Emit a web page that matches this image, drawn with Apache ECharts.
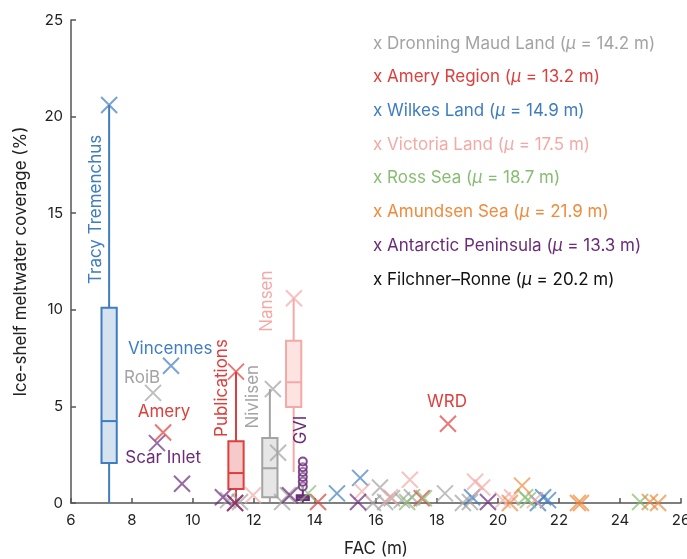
<!DOCTYPE html>
<html>
<head>
<meta charset="utf-8">
<script src="https://cdn.jsdelivr.net/npm/echarts@6/dist/echarts.min.js"></script>
<style>
  html, body { margin: 0; padding: 0; background: #fff; }
  #chart { width: 687px; height: 559px; }
</style>
</head>
<body>
<div id="chart"></div>
<script>
// ---- data (FAC in m, coverage in %) ----
const regionNames = ['Dronning Maud Land', 'Amery Region', 'Wilkes Land', 'Victoria Land',
    'Ross Sea', 'Amundsen Sea', 'Antarctic Peninsula', 'Filchner–Ronne'];
const regionMeans = [14.2, 13.2, 14.9, 17.5, 18.7, 21.9, 13.3, 20.2];
const regionColors = ['#a3a3a3', '#dd3f3c', '#3f7cc0', '#f3aaa6', '#86bd72', '#f08a3c', '#6b2a7a', '#111111'];

const dronningMaud = [[8.69, 5.7], [12.62, 5.9], [12.79, 2.6], [11.15, 0.15], [11.54, 0.05], [12.92, 0.05],
    [13.11, 0.4], [15.9, 0], [16.13, 0.8], [16.3, 0.05], [16.52, 0.25], [16.85, 0.15], [17.18, 0.3],
    [18.26, 0.5], [18.85, 0], [19.08, 0.05]];
const ameryRegion = [[9.02, 3.65], [11.41, 6.8], [11.38, 0], [14.1, 0.05], [17.5, 0.25], [18.36, 4.1]];
const wilkesLand = [[7.25, 20.6], [9.28, 7.1], [14.72, 0.5], [15.48, 1.3], [19.15, 0.3], [21.31, 0],
    [21.48, 0.3], [21.64, 0.15]];
const victoriaLand = [[13.31, 10.6], [11.97, 0.4], [15.54, 0.6], [16.46, 0.3], [17.11, 1.2], [19.25, 1.1],
    [19.48, 0.8], [20.16, 0.15], [20.46, 0.3], [21.21, 0.15]];
const rossSea = [[13.77, 0.5], [17.02, 0.05], [17.57, 0.25], [20.89, 0.3], [20.98, 0.15], [24.66, 0.05]];
const amundsenSea = [[20.39, 0], [20.79, 0.9], [22.62, 0], [22.72, 0], [24.98, 0.05], [25.25, 0]];
const antarcticPeninsula = [[8.82, 3.1], [9.64, 1.0], [10.98, 0.3], [11.38, 0], [13.18, 0.4], [15.41, 0.05],
    [19.67, 0.05]];
const filchnerRonne = [];
const regionPoints = [dronningMaud, ameryRegion, wilkesLand, victoriaLand, rossSea, amundsenSea,
    antarcticPeninsula, filchnerRonne];

// box plots: [FAC, low whisker, Q1, median, Q3, high whisker]
const boxRegion = [2, 1, 0, 3, 6];
const boxStats = [
    [7.25, 0, 2.07, 4.24, 10.1, 20.6],
    [11.41, 0, 0.72, 1.55, 3.2, 6.8],
    [12.52, 0.05, 0.3, 1.8, 3.36, 5.9],
    [13.3, 1.6, 4.97, 6.25, 8.4, 10.6],
    [13.6, 0, 0.15, 0.3, 0.4, 0.85]
];
const boxFills = ['#d5e2f0', '#f6caca', '#e6e6e6', '#fde4e2', '#8a5a96'];
const peninsulaOutliers = [[13.6, 0.85], [13.6, 1.1], [13.6, 1.35], [13.6, 1.6], [13.6, 1.85], [13.6, 2.15]];

// named ice shelves: [name, FAC, coverage, region index, vertical]
const shelfLabels = [
    ['Tracy Tremenchus', 6.82, 15.2, 2, true],
    ['Vincennes', 9.25, 8.0, 2, false],
    ['RoiB', 8.33, 6.5, 0, false],
    ['Amery', 9.05, 4.7, 1, false],
    ['Scar Inlet', 9.02, 2.33, 6, false],
    ['Publications', 10.95, 5.95, 1, true],
    ['Nivlisen', 11.97, 5.5, 0, true],
    ['Nansen', 12.43, 10.45, 3, true],
    ['GVI', 13.54, 3.78, 6, true],
    ['WRD', 18.33, 5.23, 1, false]
];

const FONT = 'Inter, Roboto, sans-serif';
const chart = echarts.init(document.getElementById('chart'));

const series = [];

series.push({
    type: 'custom',
    name: 'boxes',
    data: boxStats,
    z: 2,
    renderItem: function (params, api) {
        const i = params.dataIndex;
        const col = regionColors[boxRegion[i]];
        const x = api.value(0);
        const half = api.size([i === 4 ? 0.4 : 0.5, 0])[0] / 2;
        const lo = api.coord([x, api.value(1)]);
        const q1 = api.coord([x, api.value(2)]);
        const med = api.coord([x, api.value(3)]);
        const q3 = api.coord([x, api.value(4)]);
        const hi = api.coord([x, api.value(5)]);
        const line = { stroke: col, lineWidth: 2 };
        return {
            type: 'group',
            children: [
                { type: 'line', shape: { x1: lo[0], y1: lo[1], x2: q1[0], y2: q1[1] }, style: line },
                { type: 'line', shape: { x1: q3[0], y1: q3[1], x2: hi[0], y2: hi[1] }, style: line },
                { type: 'rect', shape: { x: q3[0] - half, y: q3[1], width: half * 2, height: q1[1] - q3[1] },
                    style: { fill: boxFills[i], stroke: col, lineWidth: 2 } },
                { type: 'line', shape: { x1: med[0] - half, y1: med[1], x2: med[0] + half, y2: med[1] }, style: line }
            ]
        };
    }
});

regionNames.forEach(function (name, k) {
    series.push({
        type: 'scatter',
        name: name,
        data: regionPoints[k],
        symbol: 'path://M0,0L10,10M10,0L0,10',
        symbolSize: 16,
        z: 3,
        itemStyle: { color: 'rgba(0,0,0,0)', borderColor: regionColors[k], borderWidth: 2, opacity: 0.7 }
    });
});

series.push({
    type: 'scatter',
    name: 'outliers',
    data: peninsulaOutliers,
    symbol: 'circle',
    symbolSize: 8,
    z: 4,
    itemStyle: { color: 'rgba(255,255,255,0.3)', borderColor: '#6b2a7a', borderWidth: 2, opacity: 0.85 }
});

series.push({
    type: 'custom',
    name: 'labels',
    data: shelfLabels.map(function (d) { return [d[1], d[2], d[3], d[4] ? 1 : 0, d[0]]; }),
    z: 5,
    renderItem: function (params, api) {
        const p = api.coord([api.value(0), api.value(1)]);
        const d = shelfLabels[params.dataIndex];
        return {
            type: 'text',
            x: p[0],
            y: p[1],
            rotation: d[4] ? Math.PI / 2 : 0,
            style: {
                text: d[0],
                fill: regionColors[d[3]],
                font: '17px ' + FONT,
                align: 'center',
                verticalAlign: 'middle'
            }
        };
    }
});

const legendText = regionNames.map(function (name, k) {
    return {
        type: 'text',
        left: 373,
        top: 35 + k * 33.7,
        style: {
            text: 'x ' + name + ' ({i|μ} = ' + regionMeans[k].toFixed(1) + ' m)',
            fill: regionColors[k],
            font: '17px ' + FONT,
            rich: { i: { fontStyle: 'italic', fontSize: 17, fontFamily: FONT, fill: regionColors[k] } }
        }
    };
});

const option = {
    animation: false,
    backgroundColor: '#fff',
    textStyle: { fontFamily: FONT },
    grid: { left: 71, right: 6, top: 20, bottom: 56, outerBoundsMode: 'none', containLabel: false },
    xAxis: {
        type: 'value',
        min: 6,
        max: 26,
        interval: 2,
        name: 'FAC (m)',
        nameLocation: 'middle',
        nameGap: 37,
        nameTextStyle: { fontSize: 17, color: '#222' },
        splitLine: { show: false },
        axisLine: { onZero: false, lineStyle: { color: '#555', width: 1.5 } },
        axisTick: { inside: true, length: 5, lineStyle: { color: '#555', width: 1.5 } },
        axisLabel: { fontSize: 15, color: '#222', margin: 10 }
    },
    yAxis: {
        type: 'value',
        min: 0,
        max: 25,
        interval: 5,
        name: 'Ice-shelf meltwater coverage (%)',
        nameLocation: 'middle',
        nameGap: 42,
        nameTextStyle: { fontSize: 17, color: '#222' },
        splitLine: { show: false },
        axisLine: { show: true, onZero: false, lineStyle: { color: '#555', width: 1.5 } },
        axisTick: { show: true, inside: true, length: 5, lineStyle: { color: '#555', width: 1.5 } },
        axisLabel: { fontSize: 15, color: '#222', margin: 8 }
    },
    graphic: legendText,
    series: series
};

chart.setOption(option);
</script>
</body>
</html>
